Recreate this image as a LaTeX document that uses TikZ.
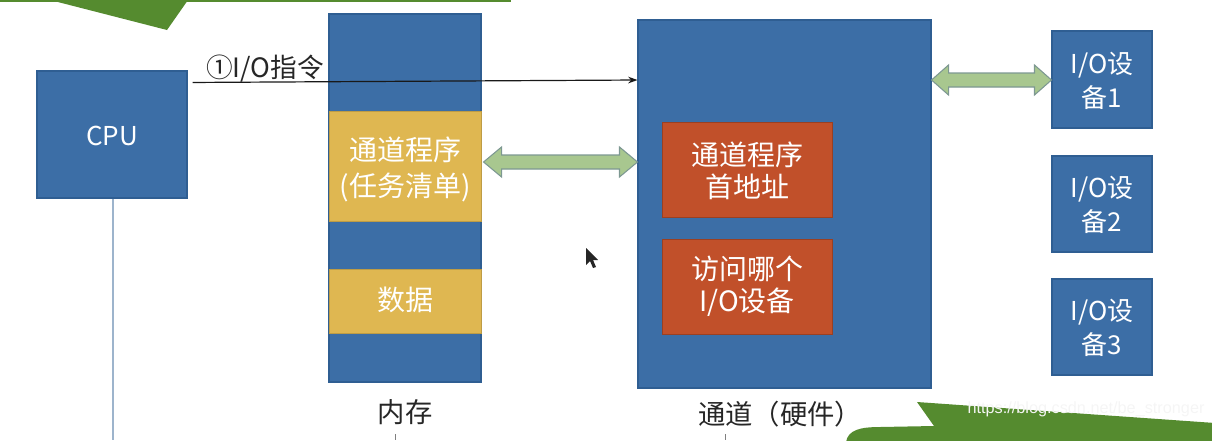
\documentclass[tikz,border=0pt]{standalone}
\usepackage{fontspec}
\setmainfont{Noto Sans CJK SC}
\newfontfamily\wmfont{Liberation Sans}
\usetikzlibrary{fit,calc,arrows.meta}
\definecolor{blu}{HTML}{3C6EA6}
\definecolor{bluedk}{HTML}{2F5E92}
\definecolor{yel}{HTML}{DFB751}
\definecolor{org}{HTML}{C1502A}
\definecolor{grn}{HTML}{558B2F}
\definecolor{arrf}{HTML}{A8C78F}
\definecolor{arrd}{HTML}{7D9892}
\definecolor{vline}{HTML}{9DB4CC}
\newcommand\mydblarrow[5]{%
  \draw[fatarrow] (#1) -- ($(#1)+(#5,-#4)$) -- ($(#1)+(#5,-#3)$) -- ($(#2)+(-#5,-#3)$) -- ($(#2)+(-#5,-#4)$) -- (#2)
   -- ($(#2)+(-#5,#4)$) -- ($(#2)+(-#5,#3)$) -- ($(#1)+(#5,#3)$) -- ($(#1)+(#5,#4)$) -- cycle;}
\begin{document}
\begin{tikzpicture}[x=0.75pt,y=-0.75pt,
  blk/.style={draw=bluedk, fill=blu, line width=0.8pt, inner sep=0pt},
  ylw/.style={fill=yel, draw=yel!85!black, line width=0.5pt, inner sep=0pt},
  orn/.style={fill=org, draw=org!80!black, line width=0.5pt, inner sep=0pt},
  wt/.style={text=white, align=center, inner sep=0pt},
  big/.style={font=\fontsize{21}{27}\selectfont},
  mid/.style={font=\fontsize{21}{24}\selectfont},
  dev/.style={font=\fontsize{19.5}{25.5}\selectfont},
  lbl/.style={text=black!85, font=\fontsize{20}{24}\selectfont, inner sep=0pt},
  fatarrow/.style={fill=arrf, draw=arrd, line width=0.8pt, line join=miter},
  callout/.style={fill=grn, draw=none}]
\useasboundingbox (0,0) rectangle (1212,440);
% top callout (partial)
\fill[callout] (-5,-5) rectangle (511,1.5);
\fill[callout] (50,0) -- (167,30) -- (188,0) -- cycle;
% CPU
\draw[vline, line width=1.2pt] (113,198) -- (113,440);
\node[blk, fit={(37,71) (187,198)}] (cpu) {};
\node[wt, dev] (cput) at ($(cpu.center)+(0,1)$) {CPU};
% memory
\node[blk, fit={(329,14) (481,382)}] (mem) {};
\node[ylw, fit={(329,111) (481,221)}] (prog) {};
\node[wt, big] (progt) at ($(prog.center)+(0,3)$) {通道程序\\(任务清单)};
\node[ylw, fit={(329,269) (481,333)}] (data) {};
\node[wt, big] (datat) at ($(data.center)+(0,-1)$) {数据};
\node[lbl, font=\fontsize{20.5}{24}\selectfont] (memlbl) at (405,412) {内存};
% channel
\node[blk, fit={(638,20) (931,388)}] (ch) {};
\node[orn, fit={(662,122) (832,217)}] (addr) {};
\node[wt, mid] (addrt) at ($(addr.center)+(0,1)$) {通道程序\\首地址};
\node[orn, fit={(662,239) (832,334)}] (which) {};
\node[wt, mid] (whicht) at ($(which.center)+(0,-0.5)$) {访问哪个\\I/O设备};
\node[lbl, font=\fontsize{20.5}{24}\selectfont] (chlbl) at (780,414) {通道（硬件）};
% devices
\node[blk, fit={(1052,31) (1152,128)}] (d1) {};
\node[blk, fit={(1052,156) (1152,252)}] (d2) {};
\node[blk, fit={(1052,279) (1152,375)}] (d3) {};
\node[wt, dev] (d1t) at ($(d1.center)+(0,1)$) {I/O设\\备1};
\node[wt, dev] (d2t) at ($(d2.center)+(0,1)$) {I/O设\\备2};
\node[wt, dev] (d3t) at ($(d3.center)+(0,1)$) {I/O设\\备3};
% instruction arrow
\coordinate (s) at ($(cpu.north east)+(5,12)$);
\coordinate (yi) at (0,80);
\draw[black!90, line width=0.9pt, -{Stealth[length=7pt,width=5pt]}] (s) -- (ch.west |- yi);
\node[lbl] (inst) at (265,69) {①I/O指令};
% fat double arrows
\coordinate (ya) at (0,162);
\coordinate (yb) at (0,80);
\coordinate (a1) at ($(mem.east |- ya)+(2,0)$);
\coordinate (a2) at (ch.west |- ya);
\coordinate (b1) at (ch.east |- yb);
\coordinate (b2) at (d1.west |- yb);
\mydblarrow{a1}{a2}{7}{15}{18}
\mydblarrow{b1}{b2}{7}{15}{17}
% bottom ticks
\draw[black!50, line width=0.6pt] (395,434) -- (395,440);
\draw[black!50, line width=0.6pt] (725,434) -- (725,440);
% bottom-right callout (partial)
\fill[callout] (917,402) -- (1215,423) -- (1215,445) -- (846,445) -- (846,442)
  .. controls (848,430) and (860,427) .. (880,427) -- (934,426) -- cycle;
\node[text=white!92!gray, font=\wmfont\fontsize{12.2}{15}\selectfont, inner sep=0pt] (wm) at (1086,409) {https://blog.csdn.net/be\_stronger};
% mouse cursor
\fill[black!85] (586,248) -- (586,265) -- (590,261) -- (593,268) -- (596,267) -- (593,260) -- (598,260) -- cycle;
\end{tikzpicture}
\end{document}
